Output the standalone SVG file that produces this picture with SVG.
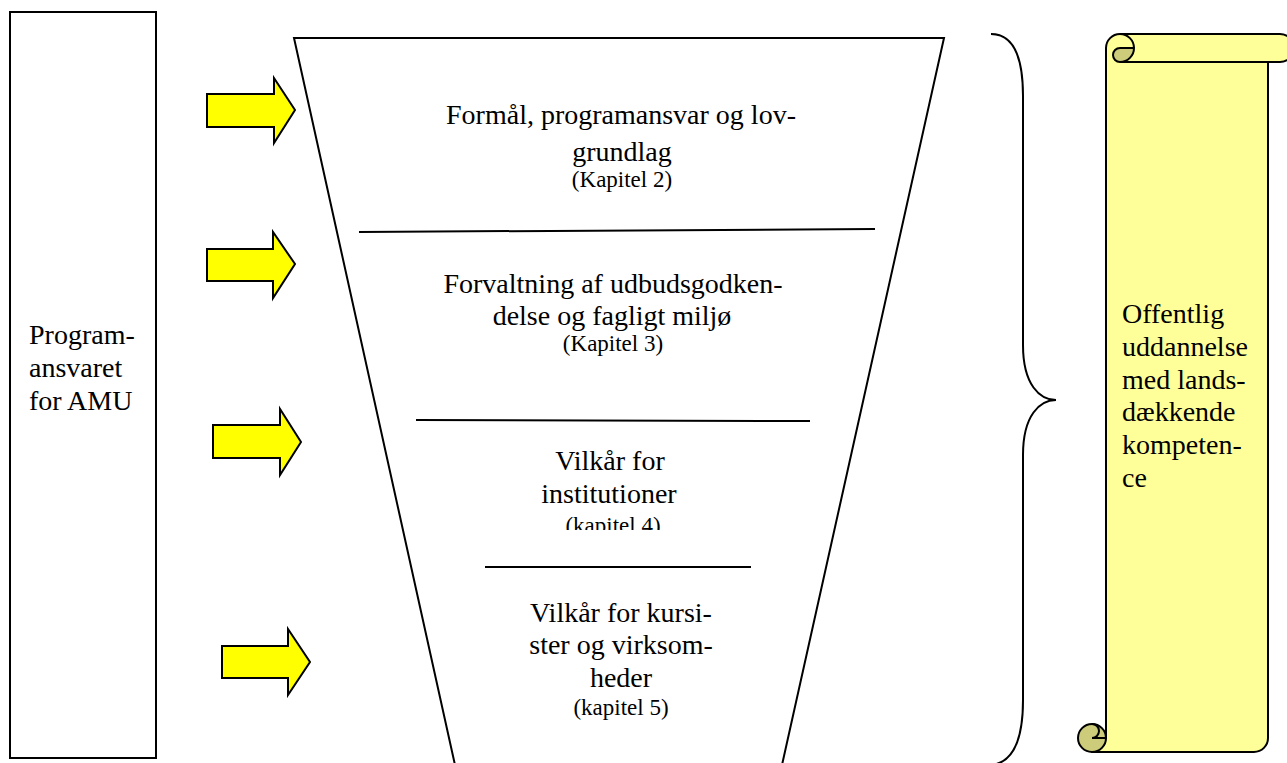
<svg xmlns="http://www.w3.org/2000/svg" width="1287" height="763" viewBox="0 0 1287 763">
<defs>
<style>
.ln{fill:none;stroke:#000;stroke-width:2}
.box{fill:#fff;stroke:#000;stroke-width:2}
.arw{fill:#ffff00;stroke:#000;stroke-width:2;stroke-linejoin:miter}
.t{font-family:"Liberation Serif","Times New Roman",serif;font-size:28px;fill:#000}
.s{font-family:"Liberation Serif","Times New Roman",serif;font-size:23px;fill:#000}
.c{text-anchor:middle}
.scl{fill:#ffff99;stroke:#000;stroke-width:2;stroke-linejoin:round}
.dk{fill:#cccc7a;stroke:#000;stroke-width:2;stroke-linejoin:round}
</style>
<clipPath id="clip4"><rect x="450" y="500" width="320" height="30"/></clipPath>
</defs>
<rect width="1287" height="763" fill="#fff"/>

<g id="node-programansvar">
<rect class="box" x="10" y="12" width="146" height="746"/>
<text class="t" x="29" y="344">Program-</text>
<text class="t" x="29" y="377">ansvaret</text>
<text class="t" x="29" y="410">for AMU</text>
</g>

<g id="node-funnel">
<polygon class="box" points="294,38 944,38 782,765 455,765"/>
<line class="ln" x1="359" y1="232" x2="875" y2="229"/>
<line class="ln" x1="416" y1="420" x2="810" y2="421"/>
<line class="ln" x1="485" y1="567" x2="751" y2="567"/>
</g>

<g id="node-kapitel2">
<text class="t c" x="621" y="124">Formål, programansvar og lov-</text>
<text class="t c" x="622" y="161">grundlag</text>
<text class="s c" x="622" y="187">(Kapitel 2)</text>
</g>

<g id="node-kapitel3">
<text class="t c" x="613" y="293">Forvaltning af udbudsgodken-</text>
<text class="t c" x="612" y="325">delse og fagligt miljø</text>
<text class="s c" x="613" y="351">(Kapitel 3)</text>
</g>

<g id="node-kapitel4">
<text class="t c" x="610" y="470">Vilkår for</text>
<text class="t c" x="609" y="503">institutioner</text>
<text class="s c" x="613" y="533" clip-path="url(#clip4)">(kapitel 4)</text>
</g>

<g id="node-kapitel5">
<text class="t c" x="621" y="622">Vilkår for kursi-</text>
<text class="t c" x="621" y="654">ster og virksom-</text>
<text class="t c" x="621" y="687">heder</text>
<text class="s c" x="621" y="715">(kapitel 5)</text>
</g>

<g id="node-scroll">
<path class="scl" d="M1120,34 L1280,34 A14,14 0 0 1 1280,62 L1268,62 L1268,738 A14,14 0 0 1 1254,752 L1092,752 L1106,738 L1106,48 A14,14 0 0 1 1120,34 Z"/>
<line class="ln" x1="1120" y1="62" x2="1268" y2="62"/>
<path class="dk" d="M1134,48 A14,14 0 0 1 1120,62 A7,7 0 0 1 1120,48 Z"/>
<path class="ln" d="M1120,34 A14,14 0 0 1 1134,48"/>
<circle class="dk" cx="1092" cy="738" r="14"/>
<path class="ln" d="M1092,724 A7,7 0 0 1 1092,738 L1106,738"/>
<line class="ln" x1="1106" y1="738" x2="1106" y2="62"/>
<line class="ln" x1="1092" y1="752" x2="1254" y2="752"/>
<text class="t" x="1122" y="323">Offentlig</text>
<text class="t" x="1122" y="356">uddannelse</text>
<text class="t" x="1122" y="389">med lands-</text>
<text class="t" x="1122" y="421">dækkende</text>
<text class="t" x="1122" y="454">kompeten-</text>
<text class="t" x="1122" y="487">ce</text>
</g>

<g id="connectors">
<polygon class="arw" points="207,94 274,94 274,78 295,110 274,143 274,127 207,127"/>
<polygon class="arw" points="207,249 273,249 273,232 295,264 273,298 273,281 207,281"/>
<polygon class="arw" points="213,425 280,425 280,409 301,442 280,475 280,458 213,458"/>
<polygon class="arw" points="222,646 288,646 288,629 310,662 288,695 288,678 222,678"/>
<path id="brace" class="ln" d="M991,34 C1012,34 1023,55 1023,96 L1023,345 C1023,385 1040,400 1056,400 C1040,400 1023,415 1023,455 L1023,700 C1023,742 1012,763 991,765"/>
</g>
</svg>
